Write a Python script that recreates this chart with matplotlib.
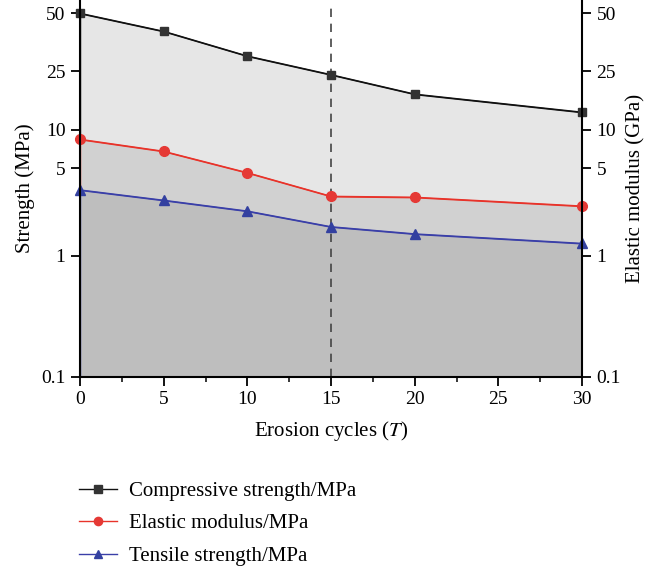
import numpy as np
import matplotlib
matplotlib.use('Agg')
import matplotlib.pyplot as plt
from matplotlib.scale import FuncScale

# Data
cycles = [0, 5, 10, 15, 20, 30]
compressive = [50.0, 40.3, 30.0, 23.7, 17.5, 13.2]
elastic = [8.45, 6.8, 4.61, 2.99, 2.94, 2.50]
tensile = [3.36, 2.78, 2.28, 1.71, 1.50, 1.26]

y_ticks = [0.1, 1, 5, 10, 25, 50]
x_ticks = [0, 5, 10, 15, 20, 25, 30]

# the original y axis is not a plain log axis: tick spacing is stretched at the top
# (log10 of value -> axis position in pixels, taken from the tick marks)
LX = np.log10([0.1, 1, 5, 10, 25, 50, 100])
LU = np.array([0.0, 120.7, 208.4, 246.7, 305.4, 363.4, 421.5])


def fwd(v):
    v = np.clip(np.asarray(v, dtype=float), 1e-6, None)
    return np.interp(np.log10(v), LX, LU)


def inv(u):
    return 10 ** np.interp(u, LU, LX)


plt.rcParams['font.family'] = ['Liberation Serif', 'DejaVu Serif']
plt.rcParams['mathtext.fontset'] = 'stix'

fig = plt.figure(figsize=(6.47, 5.73), dpi=100)
ax = fig.add_axes([80 / 647, 1 - 376.7 / 573, 502 / 647, 376.2 / 573])
ax.set_yscale(FuncScale(ax, (fwd, inv)))

base = 0.1
ax.fill_between(cycles, compressive, base, facecolor='#e6e6e6', edgecolor='#111111', lw=1, zorder=1)
ax.fill_between(cycles, elastic, base, facecolor='#d1d1d1', edgecolor='#e8332a', lw=1, zorder=1.1)
ax.fill_between(cycles, tensile, base, facecolor='#bebebe', edgecolor='#3a3fa8', lw=1, zorder=1.2)

ax.axvline(15, ymax=0.986, color='#444444', ls=(0, (5, 4)), lw=1.2, zorder=2)

ax.plot(cycles, compressive, color='#111111', lw=1, marker='s', ms=6,
        mfc='#333333', mec='#333333', label='Compressive strength/MPa', zorder=3, clip_on=False)
ax.plot(cycles, elastic, color='#e8332a', lw=1, marker='o', ms=7,
        mfc='#e53935', mec='#e53935', label='Elastic modulus/MPa', zorder=3, clip_on=False)
ax.plot(cycles, tensile, color='#3a3fa8', lw=1, marker='^', ms=7,
        mfc='#3340a0', mec='#3340a0', label='Tensile strength/MPa', zorder=3, clip_on=False)

ax.set_xlim(0, 30)
ax.set_ylim(0.1, inv(376.2))
ax.set_xticks(x_ticks)
ax.set_xticks(np.arange(2.5, 30, 5), minor=True)
ax.set_yticks(y_ticks)
ax.set_yticklabels([str(t) for t in y_ticks])
ax.yaxis.set_minor_locator(matplotlib.ticker.NullLocator())

ax.spines['top'].set_visible(False)
for s in ['left', 'right', 'bottom']:
    ax.spines[s].set_linewidth(1.5)
    ax.spines[s].set_zorder(4)

ax.tick_params(which='major', direction='out', length=6.5, width=1.3, labelsize=14, pad=4)
ax.tick_params(which='minor', direction='out', length=3.5, width=1.1)
ax.tick_params(axis='y', right=True, labelright=True)

ax.set_xlabel('Erosion cycles ($\\mathit{T}$)', fontsize=15, labelpad=8)
ax.set_ylabel('Strength (MPa)', fontsize=15, labelpad=4)
ax2 = ax.secondary_yaxis('right', functions=(lambda v: v, lambda v: v))
ax2.set_yticks([])
ax2.spines['right'].set_visible(False)
ax2.set_ylabel('Elastic modulus (GPa)', fontsize=15, labelpad=32)

fig.legend(loc='upper left', bbox_to_anchor=(71 / 647, 1 - 473 / 573), frameon=False,
           fontsize=15, handlelength=1.8, handletextpad=0.6, labelspacing=0.62,
           borderaxespad=0, markerscale=0.85)

fig.savefig('out.png', dpi=100)
